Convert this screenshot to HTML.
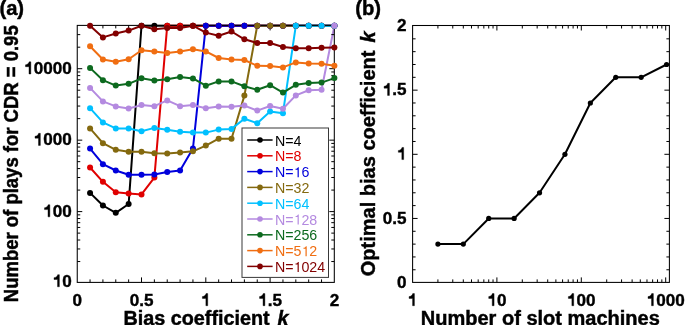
<!DOCTYPE html><html><head><meta charset="utf-8"><style>html,body{margin:0;padding:0;background:#fff;width:685px;height:325px;overflow:hidden}svg{display:block;will-change:transform}text{font-family:"Liberation Sans",sans-serif;font-weight:bold;fill:#000}.tk{stroke:#000;stroke-width:0.4px}.ttl{stroke:#000;stroke-width:0.45px}</style></head><body>
<svg width="685" height="325" viewBox="0 0 685 325">
<polyline points="90.06,192.9 102.92,205.5 115.78,212.8 128.64,204 141.5,25.7 154.36,25.7 167.22,25.7 180.08,25.7 192.94,25.7 205.8,25.7 218.66,25.7 231.52,25.7 244.38,25.7 257.24,25.7 270.1,25.7 282.96,25.7 295.82,25.7 308.68,25.7 321.54,25.7 334.4,25.7" fill="none" stroke="#000000" stroke-width="2.0" stroke-linejoin="round"/>
<polyline points="90.06,167.5 102.92,181.8 115.78,192.3 128.64,193.6 141.5,194.4 154.36,177.6 167.22,25.7 180.08,25.7 192.94,25.7 205.8,25.7 218.66,25.7 231.52,25.7 244.38,25.7 257.24,25.7 270.1,25.7 282.96,25.7 295.82,25.7 308.68,25.7 321.54,25.7 334.4,25.7" fill="none" stroke="#e00000" stroke-width="2.0" stroke-linejoin="round"/>
<polyline points="90.06,148.6 102.92,164.2 115.78,170.5 128.64,174.8 141.5,174.8 154.36,174.4 167.22,172 180.08,170.6 192.94,148.5 205.8,25.7 218.66,25.7 231.52,25.7 244.38,25.7 257.24,25.7 270.1,25.7 282.96,25.7 295.82,25.7 308.68,25.7 321.54,25.7 334.4,25.7" fill="none" stroke="#0000dc" stroke-width="2.0" stroke-linejoin="round"/>
<polyline points="90.06,128.4 102.92,143.2 115.78,149.8 128.64,151.8 141.5,151.8 154.36,153.3 167.22,153.5 180.08,152.5 192.94,151.3 205.8,145.6 218.66,138.7 231.52,138.7 244.38,95.6 257.24,25.7 270.1,25.7 282.96,25.7 295.82,25.7 308.68,25.7 321.54,25.7 334.4,25.7" fill="none" stroke="#84690f" stroke-width="2.0" stroke-linejoin="round"/>
<polyline points="90.06,108.2 102.92,122.4 115.78,128.4 128.64,128.4 141.5,131.3 154.36,127.9 167.22,129.7 180.08,131.8 192.94,132.4 205.8,132.6 218.66,129.6 231.52,128.9 244.38,118.8 257.24,123.2 270.1,111.4 282.96,113.2 295.82,25.7 308.68,25.7 321.54,25.7 334.4,25.7" fill="none" stroke="#00c0ff" stroke-width="2.0" stroke-linejoin="round"/>
<polyline points="90.06,87.9 102.92,101.4 115.78,106.4 128.64,108.5 141.5,105.1 154.36,106.2 167.22,100.4 180.08,106.2 192.94,105.1 205.8,108.3 218.66,106.4 231.52,106.7 244.38,105.6 257.24,110.6 270.1,106 282.96,108.8 295.82,95.4 308.68,90.3 321.54,89.8 334.4,25.7" fill="none" stroke="#b48ae0" stroke-width="2.0" stroke-linejoin="round"/>
<polyline points="90.06,67.9 102.92,80.2 115.78,85.6 128.64,83.8 141.5,78.3 154.36,80.6 167.22,79.2 180.08,77 192.94,78.4 205.8,85.7 218.66,81.4 231.52,81.4 244.38,86.3 257.24,89.8 270.1,85.2 282.96,92.6 295.82,84.8 308.68,82.9 321.54,82.6 334.4,78.1" fill="none" stroke="#0d6a1f" stroke-width="2.0" stroke-linejoin="round"/>
<polyline points="90.06,46.3 102.92,59.5 115.78,61.8 128.64,59.2 141.5,50.3 154.36,51.6 167.22,53 180.08,51.4 192.94,49.3 205.8,51.4 218.66,58 231.52,59.5 244.38,60 257.24,65.8 270.1,66 282.96,67.4 295.82,62.4 308.68,63.5 321.54,63.7 334.4,65.8" fill="none" stroke="#f06e12" stroke-width="2.0" stroke-linejoin="round"/>
<polyline points="90.06,25.7 102.92,37.4 115.78,33.5 128.64,30.6 141.5,25.7 154.36,29.2 167.22,27.9 180.08,27.9 192.94,25.7 205.8,32.6 218.66,35.7 231.52,31.5 244.38,39.3 257.24,43 270.1,43 282.96,47 295.82,48.3 308.68,48.3 321.54,47.7 334.4,47.5" fill="none" stroke="#820000" stroke-width="2.0" stroke-linejoin="round"/>
<rect x="77.25" y="25.4" width="257.05" height="257" fill="none" stroke="#000" stroke-width="1.05"/>
<path d="M90.06 282.4v-3.0M90.06 25.4v3.0M102.92 282.4v-3.0M102.92 25.4v3.0M115.78 282.4v-3.0M115.78 25.4v3.0M128.64 282.4v-3.0M128.64 25.4v3.0M141.5 282.4v-5M141.5 25.4v5M154.36 282.4v-3.0M154.36 25.4v3.0M167.22 282.4v-3.0M167.22 25.4v3.0M180.08 282.4v-3.0M180.08 25.4v3.0M192.94 282.4v-3.0M192.94 25.4v3.0M205.8 282.4v-5M205.8 25.4v5M218.66 282.4v-3.0M218.66 25.4v3.0M231.52 282.4v-3.0M231.52 25.4v3.0M244.38 282.4v-3.0M244.38 25.4v3.0M257.24 282.4v-3.0M257.24 25.4v3.0M270.1 282.4v-5M270.1 25.4v5M282.96 282.4v-3.0M282.96 25.4v3.0M295.82 282.4v-3.0M295.82 25.4v3.0M308.68 282.4v-3.0M308.68 25.4v3.0M321.54 282.4v-3.0M321.54 25.4v3.0M77.25 261.54h3.0M334.3 261.54h-3.0M77.25 248.96h3.0M334.3 248.96h-3.0M77.25 240.03h3.0M334.3 240.03h-3.0M77.25 233.11h3.0M334.3 233.11h-3.0M77.25 227.45h3.0M334.3 227.45h-3.0M77.25 222.67h3.0M334.3 222.67h-3.0M77.25 218.52h3.0M334.3 218.52h-3.0M77.25 214.87h3.0M334.3 214.87h-3.0M77.25 211.6h5M334.3 211.6h-5M77.25 190.09h3.0M334.3 190.09h-3.0M77.25 177.51h3.0M334.3 177.51h-3.0M77.25 168.58h3.0M334.3 168.58h-3.0M77.25 161.66h3.0M334.3 161.66h-3.0M77.25 156h3.0M334.3 156h-3.0M77.25 151.22h3.0M334.3 151.22h-3.0M77.25 147.07h3.0M334.3 147.07h-3.0M77.25 143.42h3.0M334.3 143.42h-3.0M77.25 140.15h5M334.3 140.15h-5M77.25 118.64h3.0M334.3 118.64h-3.0M77.25 106.06h3.0M334.3 106.06h-3.0M77.25 97.13h3.0M334.3 97.13h-3.0M77.25 90.21h3.0M334.3 90.21h-3.0M77.25 84.55h3.0M334.3 84.55h-3.0M77.25 79.77h3.0M334.3 79.77h-3.0M77.25 75.62h3.0M334.3 75.62h-3.0M77.25 71.97h3.0M334.3 71.97h-3.0M77.25 68.7h5M334.3 68.7h-5M77.25 47.19h3.0M334.3 47.19h-3.0M77.25 34.61h3.0M334.3 34.61h-3.0" stroke="#000" stroke-width="1.0" fill="none"/>
<circle cx="90.06" cy="192.9" r="3.0" fill="#000000"/>
<circle cx="102.92" cy="205.5" r="3.0" fill="#000000"/>
<circle cx="115.78" cy="212.8" r="3.0" fill="#000000"/>
<circle cx="128.64" cy="204" r="3.0" fill="#000000"/>
<circle cx="141.5" cy="25.7" r="3.0" fill="#000000"/>
<circle cx="154.36" cy="25.7" r="3.0" fill="#000000"/>
<circle cx="167.22" cy="25.7" r="3.0" fill="#000000"/>
<circle cx="180.08" cy="25.7" r="3.0" fill="#000000"/>
<circle cx="192.94" cy="25.7" r="3.0" fill="#000000"/>
<circle cx="205.8" cy="25.7" r="3.0" fill="#000000"/>
<circle cx="218.66" cy="25.7" r="3.0" fill="#000000"/>
<circle cx="231.52" cy="25.7" r="3.0" fill="#000000"/>
<circle cx="244.38" cy="25.7" r="3.0" fill="#000000"/>
<circle cx="257.24" cy="25.7" r="3.0" fill="#000000"/>
<circle cx="270.1" cy="25.7" r="3.0" fill="#000000"/>
<circle cx="282.96" cy="25.7" r="3.0" fill="#000000"/>
<circle cx="295.82" cy="25.7" r="3.0" fill="#000000"/>
<circle cx="308.68" cy="25.7" r="3.0" fill="#000000"/>
<circle cx="321.54" cy="25.7" r="3.0" fill="#000000"/>
<circle cx="334.4" cy="25.7" r="3.0" fill="#000000"/>
<circle cx="90.06" cy="167.5" r="3.0" fill="#e00000"/>
<circle cx="102.92" cy="181.8" r="3.0" fill="#e00000"/>
<circle cx="115.78" cy="192.3" r="3.0" fill="#e00000"/>
<circle cx="128.64" cy="193.6" r="3.0" fill="#e00000"/>
<circle cx="141.5" cy="194.4" r="3.0" fill="#e00000"/>
<circle cx="154.36" cy="177.6" r="3.0" fill="#e00000"/>
<circle cx="167.22" cy="25.7" r="3.0" fill="#e00000"/>
<circle cx="180.08" cy="25.7" r="3.0" fill="#e00000"/>
<circle cx="192.94" cy="25.7" r="3.0" fill="#e00000"/>
<circle cx="205.8" cy="25.7" r="3.0" fill="#e00000"/>
<circle cx="218.66" cy="25.7" r="3.0" fill="#e00000"/>
<circle cx="231.52" cy="25.7" r="3.0" fill="#e00000"/>
<circle cx="244.38" cy="25.7" r="3.0" fill="#e00000"/>
<circle cx="257.24" cy="25.7" r="3.0" fill="#e00000"/>
<circle cx="270.1" cy="25.7" r="3.0" fill="#e00000"/>
<circle cx="282.96" cy="25.7" r="3.0" fill="#e00000"/>
<circle cx="295.82" cy="25.7" r="3.0" fill="#e00000"/>
<circle cx="308.68" cy="25.7" r="3.0" fill="#e00000"/>
<circle cx="321.54" cy="25.7" r="3.0" fill="#e00000"/>
<circle cx="334.4" cy="25.7" r="3.0" fill="#e00000"/>
<circle cx="90.06" cy="148.6" r="3.0" fill="#0000dc"/>
<circle cx="102.92" cy="164.2" r="3.0" fill="#0000dc"/>
<circle cx="115.78" cy="170.5" r="3.0" fill="#0000dc"/>
<circle cx="128.64" cy="174.8" r="3.0" fill="#0000dc"/>
<circle cx="141.5" cy="174.8" r="3.0" fill="#0000dc"/>
<circle cx="154.36" cy="174.4" r="3.0" fill="#0000dc"/>
<circle cx="167.22" cy="172" r="3.0" fill="#0000dc"/>
<circle cx="180.08" cy="170.6" r="3.0" fill="#0000dc"/>
<circle cx="192.94" cy="148.5" r="3.0" fill="#0000dc"/>
<circle cx="205.8" cy="25.7" r="3.0" fill="#0000dc"/>
<circle cx="218.66" cy="25.7" r="3.0" fill="#0000dc"/>
<circle cx="231.52" cy="25.7" r="3.0" fill="#0000dc"/>
<circle cx="244.38" cy="25.7" r="3.0" fill="#0000dc"/>
<circle cx="257.24" cy="25.7" r="3.0" fill="#0000dc"/>
<circle cx="270.1" cy="25.7" r="3.0" fill="#0000dc"/>
<circle cx="282.96" cy="25.7" r="3.0" fill="#0000dc"/>
<circle cx="295.82" cy="25.7" r="3.0" fill="#0000dc"/>
<circle cx="308.68" cy="25.7" r="3.0" fill="#0000dc"/>
<circle cx="321.54" cy="25.7" r="3.0" fill="#0000dc"/>
<circle cx="334.4" cy="25.7" r="3.0" fill="#0000dc"/>
<circle cx="90.06" cy="128.4" r="3.0" fill="#84690f"/>
<circle cx="102.92" cy="143.2" r="3.0" fill="#84690f"/>
<circle cx="115.78" cy="149.8" r="3.0" fill="#84690f"/>
<circle cx="128.64" cy="151.8" r="3.0" fill="#84690f"/>
<circle cx="141.5" cy="151.8" r="3.0" fill="#84690f"/>
<circle cx="154.36" cy="153.3" r="3.0" fill="#84690f"/>
<circle cx="167.22" cy="153.5" r="3.0" fill="#84690f"/>
<circle cx="180.08" cy="152.5" r="3.0" fill="#84690f"/>
<circle cx="192.94" cy="151.3" r="3.0" fill="#84690f"/>
<circle cx="205.8" cy="145.6" r="3.0" fill="#84690f"/>
<circle cx="218.66" cy="138.7" r="3.0" fill="#84690f"/>
<circle cx="231.52" cy="138.7" r="3.0" fill="#84690f"/>
<circle cx="244.38" cy="95.6" r="3.0" fill="#84690f"/>
<circle cx="257.24" cy="25.7" r="3.0" fill="#84690f"/>
<circle cx="270.1" cy="25.7" r="3.0" fill="#84690f"/>
<circle cx="282.96" cy="25.7" r="3.0" fill="#84690f"/>
<circle cx="295.82" cy="25.7" r="3.0" fill="#84690f"/>
<circle cx="308.68" cy="25.7" r="3.0" fill="#84690f"/>
<circle cx="321.54" cy="25.7" r="3.0" fill="#84690f"/>
<circle cx="334.4" cy="25.7" r="3.0" fill="#84690f"/>
<circle cx="90.06" cy="108.2" r="3.0" fill="#00c0ff"/>
<circle cx="102.92" cy="122.4" r="3.0" fill="#00c0ff"/>
<circle cx="115.78" cy="128.4" r="3.0" fill="#00c0ff"/>
<circle cx="128.64" cy="128.4" r="3.0" fill="#00c0ff"/>
<circle cx="141.5" cy="131.3" r="3.0" fill="#00c0ff"/>
<circle cx="154.36" cy="127.9" r="3.0" fill="#00c0ff"/>
<circle cx="167.22" cy="129.7" r="3.0" fill="#00c0ff"/>
<circle cx="180.08" cy="131.8" r="3.0" fill="#00c0ff"/>
<circle cx="192.94" cy="132.4" r="3.0" fill="#00c0ff"/>
<circle cx="205.8" cy="132.6" r="3.0" fill="#00c0ff"/>
<circle cx="218.66" cy="129.6" r="3.0" fill="#00c0ff"/>
<circle cx="231.52" cy="128.9" r="3.0" fill="#00c0ff"/>
<circle cx="244.38" cy="118.8" r="3.0" fill="#00c0ff"/>
<circle cx="257.24" cy="123.2" r="3.0" fill="#00c0ff"/>
<circle cx="270.1" cy="111.4" r="3.0" fill="#00c0ff"/>
<circle cx="282.96" cy="113.2" r="3.0" fill="#00c0ff"/>
<circle cx="295.82" cy="25.7" r="3.0" fill="#00c0ff"/>
<circle cx="308.68" cy="25.7" r="3.0" fill="#00c0ff"/>
<circle cx="321.54" cy="25.7" r="3.0" fill="#00c0ff"/>
<circle cx="334.4" cy="25.7" r="3.0" fill="#00c0ff"/>
<circle cx="90.06" cy="87.9" r="3.0" fill="#b48ae0"/>
<circle cx="102.92" cy="101.4" r="3.0" fill="#b48ae0"/>
<circle cx="115.78" cy="106.4" r="3.0" fill="#b48ae0"/>
<circle cx="128.64" cy="108.5" r="3.0" fill="#b48ae0"/>
<circle cx="141.5" cy="105.1" r="3.0" fill="#b48ae0"/>
<circle cx="154.36" cy="106.2" r="3.0" fill="#b48ae0"/>
<circle cx="167.22" cy="100.4" r="3.0" fill="#b48ae0"/>
<circle cx="180.08" cy="106.2" r="3.0" fill="#b48ae0"/>
<circle cx="192.94" cy="105.1" r="3.0" fill="#b48ae0"/>
<circle cx="205.8" cy="108.3" r="3.0" fill="#b48ae0"/>
<circle cx="218.66" cy="106.4" r="3.0" fill="#b48ae0"/>
<circle cx="231.52" cy="106.7" r="3.0" fill="#b48ae0"/>
<circle cx="244.38" cy="105.6" r="3.0" fill="#b48ae0"/>
<circle cx="257.24" cy="110.6" r="3.0" fill="#b48ae0"/>
<circle cx="270.1" cy="106" r="3.0" fill="#b48ae0"/>
<circle cx="282.96" cy="108.8" r="3.0" fill="#b48ae0"/>
<circle cx="295.82" cy="95.4" r="3.0" fill="#b48ae0"/>
<circle cx="308.68" cy="90.3" r="3.0" fill="#b48ae0"/>
<circle cx="321.54" cy="89.8" r="3.0" fill="#b48ae0"/>
<circle cx="334.4" cy="25.7" r="3.0" fill="#b48ae0"/>
<circle cx="90.06" cy="67.9" r="3.0" fill="#0d6a1f"/>
<circle cx="102.92" cy="80.2" r="3.0" fill="#0d6a1f"/>
<circle cx="115.78" cy="85.6" r="3.0" fill="#0d6a1f"/>
<circle cx="128.64" cy="83.8" r="3.0" fill="#0d6a1f"/>
<circle cx="141.5" cy="78.3" r="3.0" fill="#0d6a1f"/>
<circle cx="154.36" cy="80.6" r="3.0" fill="#0d6a1f"/>
<circle cx="167.22" cy="79.2" r="3.0" fill="#0d6a1f"/>
<circle cx="180.08" cy="77" r="3.0" fill="#0d6a1f"/>
<circle cx="192.94" cy="78.4" r="3.0" fill="#0d6a1f"/>
<circle cx="205.8" cy="85.7" r="3.0" fill="#0d6a1f"/>
<circle cx="218.66" cy="81.4" r="3.0" fill="#0d6a1f"/>
<circle cx="231.52" cy="81.4" r="3.0" fill="#0d6a1f"/>
<circle cx="244.38" cy="86.3" r="3.0" fill="#0d6a1f"/>
<circle cx="257.24" cy="89.8" r="3.0" fill="#0d6a1f"/>
<circle cx="270.1" cy="85.2" r="3.0" fill="#0d6a1f"/>
<circle cx="282.96" cy="92.6" r="3.0" fill="#0d6a1f"/>
<circle cx="295.82" cy="84.8" r="3.0" fill="#0d6a1f"/>
<circle cx="308.68" cy="82.9" r="3.0" fill="#0d6a1f"/>
<circle cx="321.54" cy="82.6" r="3.0" fill="#0d6a1f"/>
<circle cx="334.4" cy="78.1" r="3.0" fill="#0d6a1f"/>
<circle cx="90.06" cy="46.3" r="3.0" fill="#f06e12"/>
<circle cx="102.92" cy="59.5" r="3.0" fill="#f06e12"/>
<circle cx="115.78" cy="61.8" r="3.0" fill="#f06e12"/>
<circle cx="128.64" cy="59.2" r="3.0" fill="#f06e12"/>
<circle cx="141.5" cy="50.3" r="3.0" fill="#f06e12"/>
<circle cx="154.36" cy="51.6" r="3.0" fill="#f06e12"/>
<circle cx="167.22" cy="53" r="3.0" fill="#f06e12"/>
<circle cx="180.08" cy="51.4" r="3.0" fill="#f06e12"/>
<circle cx="192.94" cy="49.3" r="3.0" fill="#f06e12"/>
<circle cx="205.8" cy="51.4" r="3.0" fill="#f06e12"/>
<circle cx="218.66" cy="58" r="3.0" fill="#f06e12"/>
<circle cx="231.52" cy="59.5" r="3.0" fill="#f06e12"/>
<circle cx="244.38" cy="60" r="3.0" fill="#f06e12"/>
<circle cx="257.24" cy="65.8" r="3.0" fill="#f06e12"/>
<circle cx="270.1" cy="66" r="3.0" fill="#f06e12"/>
<circle cx="282.96" cy="67.4" r="3.0" fill="#f06e12"/>
<circle cx="295.82" cy="62.4" r="3.0" fill="#f06e12"/>
<circle cx="308.68" cy="63.5" r="3.0" fill="#f06e12"/>
<circle cx="321.54" cy="63.7" r="3.0" fill="#f06e12"/>
<circle cx="334.4" cy="65.8" r="3.0" fill="#f06e12"/>
<circle cx="90.06" cy="25.7" r="3.0" fill="#820000"/>
<circle cx="102.92" cy="37.4" r="3.0" fill="#820000"/>
<circle cx="115.78" cy="33.5" r="3.0" fill="#820000"/>
<circle cx="128.64" cy="30.6" r="3.0" fill="#820000"/>
<circle cx="141.5" cy="25.7" r="3.0" fill="#820000"/>
<circle cx="154.36" cy="29.2" r="3.0" fill="#820000"/>
<circle cx="167.22" cy="27.9" r="3.0" fill="#820000"/>
<circle cx="180.08" cy="27.9" r="3.0" fill="#820000"/>
<circle cx="192.94" cy="25.7" r="3.0" fill="#820000"/>
<circle cx="205.8" cy="32.6" r="3.0" fill="#820000"/>
<circle cx="218.66" cy="35.7" r="3.0" fill="#820000"/>
<circle cx="231.52" cy="31.5" r="3.0" fill="#820000"/>
<circle cx="244.38" cy="39.3" r="3.0" fill="#820000"/>
<circle cx="257.24" cy="43" r="3.0" fill="#820000"/>
<circle cx="270.1" cy="43" r="3.0" fill="#820000"/>
<circle cx="282.96" cy="47" r="3.0" fill="#820000"/>
<circle cx="295.82" cy="48.3" r="3.0" fill="#820000"/>
<circle cx="308.68" cy="48.3" r="3.0" fill="#820000"/>
<circle cx="321.54" cy="47.7" r="3.0" fill="#820000"/>
<circle cx="334.4" cy="47.5" r="3.0" fill="#820000"/>
<rect x="242" y="128.0" width="86.5" height="149.39999999999998" fill="#fff" stroke="#383838" stroke-width="1"/>
<path d="M247.2 140H272.6" stroke="#000000" stroke-width="1.5"/>
<circle cx="260" cy="140" r="2.8" fill="#000000"/>
<g transform="translate(274.9,145.6) scale(0.99,1)"><text x="0" y="0" style="font-size:14.4px;font-weight:normal;fill:#000000">N=4</text></g>
<path d="M247.2 155.8H272.6" stroke="#e00000" stroke-width="1.5"/>
<circle cx="260" cy="155.8" r="2.8" fill="#e00000"/>
<g transform="translate(274.9,161.4) scale(0.99,1)"><text x="0" y="0" style="font-size:14.4px;font-weight:normal;fill:#e00000">N=8</text></g>
<path d="M247.2 171.6H272.6" stroke="#0000dc" stroke-width="1.5"/>
<circle cx="260" cy="171.6" r="2.8" fill="#0000dc"/>
<g transform="translate(274.9,177.2) scale(0.99,1)"><text x="0" y="0" style="font-size:14.4px;font-weight:normal;fill:#0000dc">N= 6</text><path transform="translate(18.81,0) scale(0.007031,-0.007031)" d="M754 0L754 1430L640 1430C610 1300 500 1215 290 1195L290 1065L583 1065L583 0Z" fill="#0000dc"/></g>
<path d="M247.2 187.4H272.6" stroke="#84690f" stroke-width="1.5"/>
<circle cx="260" cy="187.4" r="2.8" fill="#84690f"/>
<g transform="translate(274.9,193) scale(0.99,1)"><text x="0" y="0" style="font-size:14.4px;font-weight:normal;fill:#84690f">N=32</text></g>
<path d="M247.2 203.2H272.6" stroke="#00c0ff" stroke-width="1.5"/>
<circle cx="260" cy="203.2" r="2.8" fill="#00c0ff"/>
<g transform="translate(274.9,208.8) scale(0.99,1)"><text x="0" y="0" style="font-size:14.4px;font-weight:normal;fill:#00c0ff">N=64</text></g>
<path d="M247.2 219H272.6" stroke="#b48ae0" stroke-width="1.5"/>
<circle cx="260" cy="219" r="2.8" fill="#b48ae0"/>
<g transform="translate(274.9,224.6) scale(0.99,1)"><text x="0" y="0" style="font-size:14.4px;font-weight:normal;fill:#b48ae0">N= 28</text><path transform="translate(18.81,0) scale(0.007031,-0.007031)" d="M754 0L754 1430L640 1430C610 1300 500 1215 290 1195L290 1065L583 1065L583 0Z" fill="#b48ae0"/></g>
<path d="M247.2 234.8H272.6" stroke="#0d6a1f" stroke-width="1.5"/>
<circle cx="260" cy="234.8" r="2.8" fill="#0d6a1f"/>
<g transform="translate(274.9,240.4) scale(0.99,1)"><text x="0" y="0" style="font-size:14.4px;font-weight:normal;fill:#0d6a1f">N=256</text></g>
<path d="M247.2 250.6H272.6" stroke="#f06e12" stroke-width="1.5"/>
<circle cx="260" cy="250.6" r="2.8" fill="#f06e12"/>
<g transform="translate(274.9,256.2) scale(0.99,1)"><text x="0" y="0" style="font-size:14.4px;font-weight:normal;fill:#f06e12">N=5 2</text><path transform="translate(26.82,0) scale(0.007031,-0.007031)" d="M754 0L754 1430L640 1430C610 1300 500 1215 290 1195L290 1065L583 1065L583 0Z" fill="#f06e12"/></g>
<path d="M247.2 266.4H272.6" stroke="#820000" stroke-width="1.5"/>
<circle cx="260" cy="266.4" r="2.8" fill="#820000"/>
<g transform="translate(274.9,272) scale(0.99,1)"><text x="0" y="0" style="font-size:14.4px;font-weight:normal;fill:#820000">N= 024</text><path transform="translate(18.81,0) scale(0.007031,-0.007031)" d="M754 0L754 1430L640 1430C610 1300 500 1215 290 1195L290 1065L583 1065L583 0Z" fill="#820000"/></g>
<g transform="translate(71.7,286.77) scale(1.0,1)"><text class="tk" x="-19.02" y="0" style="font-size:17.1px;fill:#000"> 0</text><path transform="translate(-19.02,0) scale(0.008350,-0.008350)" d="M800 0L800 1450L600 1450C560 1260 410 1120 160 1090L160 870L580 870L580 0Z" fill="#000" stroke="#000" stroke-width="47.91"/></g>
<g transform="translate(71.7,216.87) scale(1.0,1)"><text class="tk" x="-28.53" y="0" style="font-size:17.1px;fill:#000"> 00</text><path transform="translate(-28.53,0) scale(0.008350,-0.008350)" d="M800 0L800 1450L600 1450C560 1260 410 1120 160 1090L160 870L580 870L580 0Z" fill="#000" stroke="#000" stroke-width="47.91"/></g>
<g transform="translate(71.7,145.42) scale(1.0,1)"><text class="tk" x="-38.04" y="0" style="font-size:17.1px;fill:#000"> 000</text><path transform="translate(-38.04,0) scale(0.008350,-0.008350)" d="M800 0L800 1450L600 1450C560 1260 410 1120 160 1090L160 870L580 870L580 0Z" fill="#000" stroke="#000" stroke-width="47.91"/></g>
<g transform="translate(71.7,73.97) scale(1.0,1)"><text class="tk" x="-47.55" y="0" style="font-size:17.1px;fill:#000"> 0000</text><path transform="translate(-47.55,0) scale(0.008350,-0.008350)" d="M800 0L800 1450L600 1450C560 1260 410 1120 160 1090L160 870L580 870L580 0Z" fill="#000" stroke="#000" stroke-width="47.91"/></g>
<g transform="translate(77.2,305.7) scale(1.0,1)"><text class="tk" x="-4.76" y="0" style="font-size:17.1px;fill:#000">0</text></g>
<g transform="translate(141.5,305.7) scale(1.0,1)"><text class="tk" x="-11.89" y="0" style="font-size:17.1px;fill:#000">0.5</text></g>
<g transform="translate(205.8,305.7) scale(1.0,1)"><text class="tk" x="-4.76" y="0" style="font-size:17.1px;fill:#000"> </text><path transform="translate(-4.76,0) scale(0.008350,-0.008350)" d="M800 0L800 1450L600 1450C560 1260 410 1120 160 1090L160 870L580 870L580 0Z" fill="#000" stroke="#000" stroke-width="47.91"/></g>
<g transform="translate(270.1,305.7) scale(1.0,1)"><text class="tk" x="-11.89" y="0" style="font-size:17.1px;fill:#000"> .5</text><path transform="translate(-11.89,0) scale(0.008350,-0.008350)" d="M800 0L800 1450L600 1450C560 1260 410 1120 160 1090L160 870L580 870L580 0Z" fill="#000" stroke="#000" stroke-width="47.91"/></g>
<g transform="translate(334.4,305.7) scale(1.0,1)"><text class="tk" x="-4.76" y="0" style="font-size:17.1px;fill:#000">2</text></g>
<polyline points="437.91,244.11 463.31,244.11 488.72,218.45 514.13,218.45 539.53,192.79 564.94,154.3 590.35,102.98 615.76,77.32 641.16,77.32 666.57,64.49" fill="none" stroke="#000" stroke-width="2" stroke-linejoin="round"/>
<rect x="412.6" y="25.5" width="256.8" height="256.9" fill="none" stroke="#000" stroke-width="1.05"/>
<path d="M437.91 282.4v-3.0M437.91 25.5v3.0M452.77 282.4v-3.0M452.77 25.5v3.0M463.31 282.4v-3.0M463.31 25.5v3.0M471.49 282.4v-3.0M471.49 25.5v3.0M478.18 282.4v-3.0M478.18 25.5v3.0M483.83 282.4v-3.0M483.83 25.5v3.0M488.72 282.4v-3.0M488.72 25.5v3.0M493.04 282.4v-3.0M493.04 25.5v3.0M496.9 282.4v-5M496.9 25.5v5M522.31 282.4v-3.0M522.31 25.5v3.0M537.17 282.4v-3.0M537.17 25.5v3.0M547.71 282.4v-3.0M547.71 25.5v3.0M555.89 282.4v-3.0M555.89 25.5v3.0M562.58 282.4v-3.0M562.58 25.5v3.0M568.23 282.4v-3.0M568.23 25.5v3.0M573.12 282.4v-3.0M573.12 25.5v3.0M577.44 282.4v-3.0M577.44 25.5v3.0M581.3 282.4v-5M581.3 25.5v5M606.71 282.4v-3.0M606.71 25.5v3.0M621.57 282.4v-3.0M621.57 25.5v3.0M632.11 282.4v-3.0M632.11 25.5v3.0M640.29 282.4v-3.0M640.29 25.5v3.0M646.98 282.4v-3.0M646.98 25.5v3.0M652.63 282.4v-3.0M652.63 25.5v3.0M657.52 282.4v-3.0M657.52 25.5v3.0M661.84 282.4v-3.0M661.84 25.5v3.0M665.7 282.4v-5M665.7 25.5v5M412.6 269.77h3.0M669.4 269.77h-3.0M412.6 256.94h3.0M669.4 256.94h-3.0M412.6 244.11h3.0M669.4 244.11h-3.0M412.6 231.28h3.0M669.4 231.28h-3.0M412.6 218.45h5M669.4 218.45h-5M412.6 205.62h3.0M669.4 205.62h-3.0M412.6 192.79h3.0M669.4 192.79h-3.0M412.6 179.96h3.0M669.4 179.96h-3.0M412.6 167.13h3.0M669.4 167.13h-3.0M412.6 154.3h5M669.4 154.3h-5M412.6 141.47h3.0M669.4 141.47h-3.0M412.6 128.64h3.0M669.4 128.64h-3.0M412.6 115.81h3.0M669.4 115.81h-3.0M412.6 102.98h3.0M669.4 102.98h-3.0M412.6 90.15h5M669.4 90.15h-5M412.6 77.32h3.0M669.4 77.32h-3.0M412.6 64.49h3.0M669.4 64.49h-3.0M412.6 51.66h3.0M669.4 51.66h-3.0M412.6 38.83h3.0M669.4 38.83h-3.0" stroke="#000" stroke-width="1.0" fill="none"/>
<circle cx="437.91" cy="244.11" r="2.6" fill="#000"/>
<circle cx="463.31" cy="244.11" r="2.6" fill="#000"/>
<circle cx="488.72" cy="218.45" r="2.6" fill="#000"/>
<circle cx="514.13" cy="218.45" r="2.6" fill="#000"/>
<circle cx="539.53" cy="192.79" r="2.6" fill="#000"/>
<circle cx="564.94" cy="154.3" r="2.6" fill="#000"/>
<circle cx="590.35" cy="102.98" r="2.6" fill="#000"/>
<circle cx="615.76" cy="77.32" r="2.6" fill="#000"/>
<circle cx="641.16" cy="77.32" r="2.6" fill="#000"/>
<circle cx="666.57" cy="64.49" r="2.6" fill="#000"/>
<g transform="translate(406.5,287.87) scale(1.0,1)"><text class="tk" x="-9.51" y="0" style="font-size:17.1px;fill:#000">0</text></g>
<g transform="translate(406.5,223.72) scale(1.0,1)"><text class="tk" x="-23.77" y="0" style="font-size:17.1px;fill:#000">0.5</text></g>
<g transform="translate(406.5,159.57) scale(1.0,1)"><text class="tk" x="-9.51" y="0" style="font-size:17.1px;fill:#000"> </text><path transform="translate(-9.51,0) scale(0.008350,-0.008350)" d="M800 0L800 1450L600 1450C560 1260 410 1120 160 1090L160 870L580 870L580 0Z" fill="#000" stroke="#000" stroke-width="47.91"/></g>
<g transform="translate(406.5,95.42) scale(1.0,1)"><text class="tk" x="-23.77" y="0" style="font-size:17.1px;fill:#000"> .5</text><path transform="translate(-23.77,0) scale(0.008350,-0.008350)" d="M800 0L800 1450L600 1450C560 1260 410 1120 160 1090L160 870L580 870L580 0Z" fill="#000" stroke="#000" stroke-width="47.91"/></g>
<g transform="translate(406.5,31.27) scale(1.0,1)"><text class="tk" x="-9.51" y="0" style="font-size:17.1px;fill:#000">2</text></g>
<g transform="translate(412.5,305.7) scale(1.0,1)"><text class="tk" x="-4.76" y="0" style="font-size:17.1px;fill:#000"> </text><path transform="translate(-4.76,0) scale(0.008350,-0.008350)" d="M800 0L800 1450L600 1450C560 1260 410 1120 160 1090L160 870L580 870L580 0Z" fill="#000" stroke="#000" stroke-width="47.91"/></g>
<g transform="translate(496.9,305.7) scale(1.0,1)"><text class="tk" x="-9.51" y="0" style="font-size:17.1px;fill:#000"> 0</text><path transform="translate(-9.51,0) scale(0.008350,-0.008350)" d="M800 0L800 1450L600 1450C560 1260 410 1120 160 1090L160 870L580 870L580 0Z" fill="#000" stroke="#000" stroke-width="47.91"/></g>
<g transform="translate(581.3,305.7) scale(1.0,1)"><text class="tk" x="-14.27" y="0" style="font-size:17.1px;fill:#000"> 00</text><path transform="translate(-14.27,0) scale(0.008350,-0.008350)" d="M800 0L800 1450L600 1450C560 1260 410 1120 160 1090L160 870L580 870L580 0Z" fill="#000" stroke="#000" stroke-width="47.91"/></g>
<g transform="translate(665.7,305.7) scale(1.0,1)"><text class="tk" x="-19.02" y="0" style="font-size:17.1px;fill:#000"> 000</text><path transform="translate(-19.02,0) scale(0.008350,-0.008350)" d="M800 0L800 1450L600 1450C560 1260 410 1120 160 1090L160 870L580 870L580 0Z" fill="#000" stroke="#000" stroke-width="47.91"/></g>
<text class="ttl" x="-0.6" y="15.3" style="font-size:20.2px">(a)</text>
<text class="ttl" x="355.3" y="15.3" style="font-size:20.2px">(b)</text>
<text class="ttl" transform="translate(17.8,163.75) scale(1.06,1) rotate(-90)" text-anchor="middle" style="font-size:18.5px">Number of plays for CDR = 0.95</text>
<text class="ttl" x="123.5" y="324.5" style="font-size:19.8px">Bias coefficient <tspan dx="2.2" style="font-style:italic">k</tspan></text>
<text class="ttl" transform="translate(375.3,276.2) rotate(-90)" style="font-size:20px">Optimal bias coefficient <tspan dx="2.5" style="font-style:italic">k</tspan></text>
<text class="ttl" x="540.3" y="324.6" text-anchor="middle" style="font-size:20px">Number of slot machines</text>
</svg></body></html>
